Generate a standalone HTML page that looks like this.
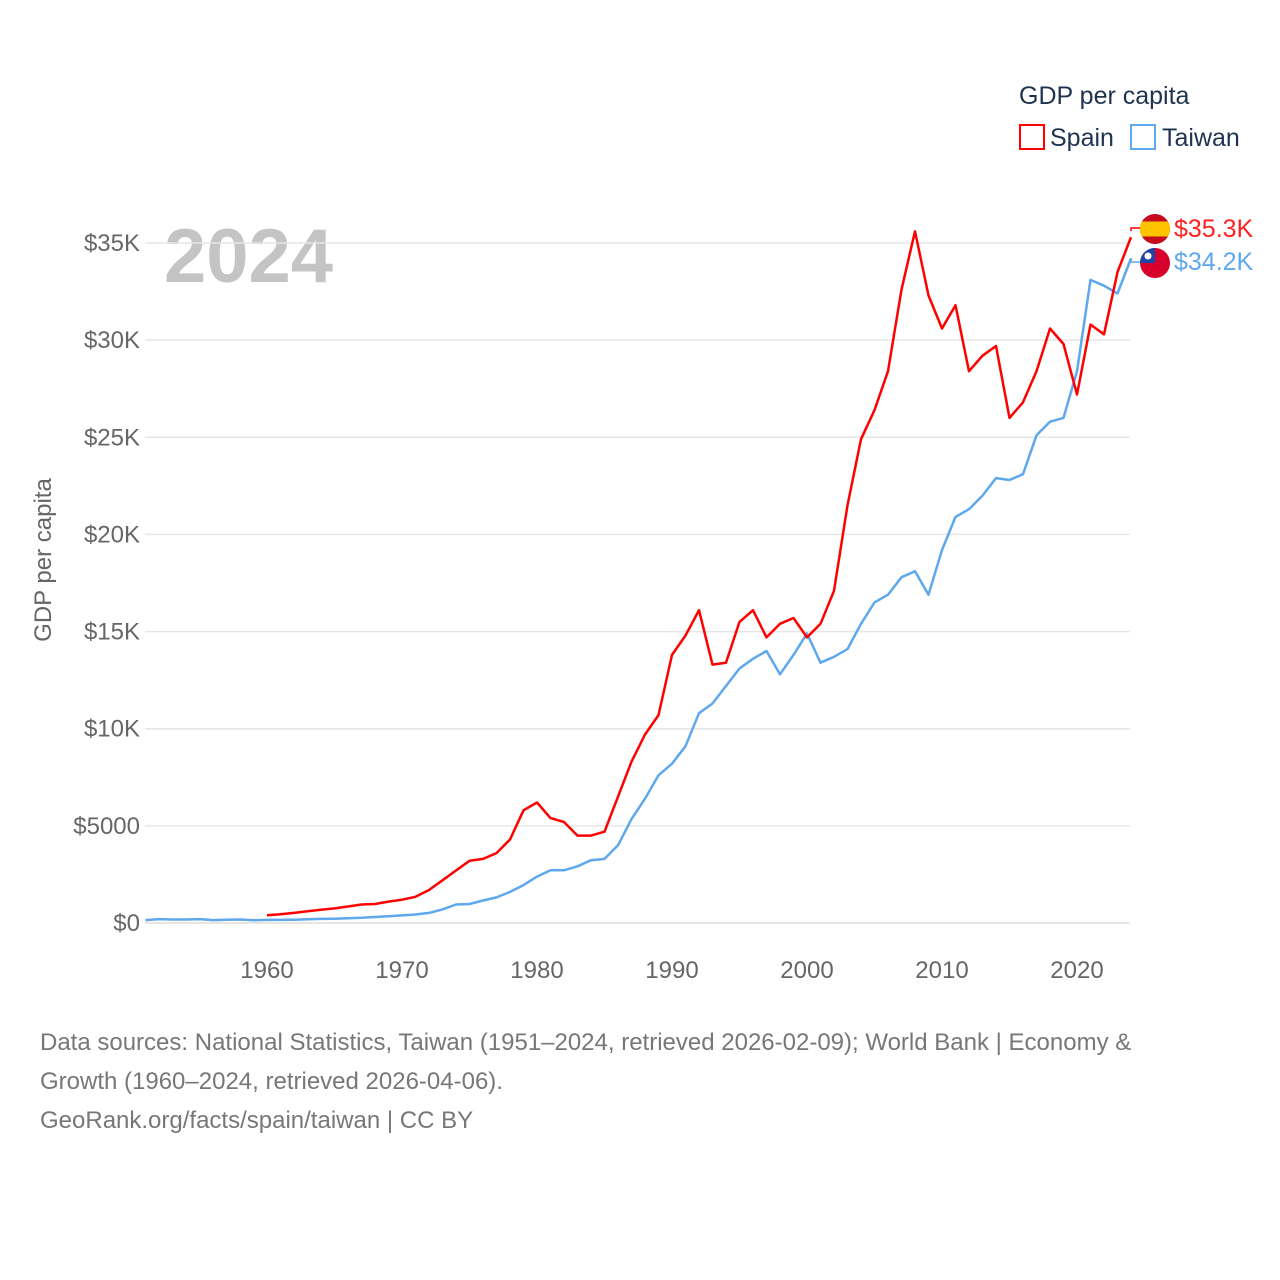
<!DOCTYPE html>
<html><head><meta charset="utf-8">
<style>
body{margin:0;background:#fff;font-family:"Liberation Sans",sans-serif;}
svg text{font-family:"Liberation Sans",sans-serif;}
.foot{position:absolute;left:40px;top:1023px;font-size:24px;line-height:39px;color:#777;width:1170px;}
</style></head>
<body>
<div style="position:relative;width:1280px;height:1280px;overflow:hidden">
<svg id="chart" width="1280" height="1280">
  <text x="1019" y="104" font-size="25" fill="#1f3350">GDP per capita</text>
  <g>
    <rect x="1020" y="125" width="24" height="24" fill="none" stroke="#ff0000" stroke-width="2"/>
    <text x="1050" y="146" font-size="25" fill="#1f3350">Spain</text>
  </g>
  <g>
    <rect x="1131" y="125" width="24" height="24" fill="none" stroke="#5ea8ee" stroke-width="2"/>
    <text x="1162" y="146" font-size="25" fill="#1f3350">Taiwan</text>
  </g>
  <text x="164" y="282" font-size="76" font-weight="bold" fill="#c4c4c4">2024</text>
  <text transform="translate(51,560) rotate(-90)" text-anchor="middle" font-size="24" fill="#666">GDP per capita</text>
  <g id="grid"></g>
  <g id="series"></g>
  <g>
    <path d="M1131 231 L1131 228 L1140 228" fill="none" stroke="#ff0000" stroke-width="1.5"/>
    <clipPath id="c1"><circle cx="1155" cy="229" r="15"/></clipPath>
    <g clip-path="url(#c1)"><rect x="1140" y="214" width="30" height="30" fill="#c60b1e"/><rect x="1140" y="221.5" width="30" height="15" fill="#ffc400"/></g>
    <text x="1174" y="237" font-size="25" fill="#ff2020">$35.3K</text>
  </g>
  <g>
    <path d="M1131 258 L1131 262 L1140 262" fill="none" stroke="#5ea8ee" stroke-width="1.5"/>
    <clipPath id="c2"><circle cx="1155" cy="263" r="15"/></clipPath>
    <g clip-path="url(#c2)"><rect x="1140" y="248" width="30" height="30" fill="#d8002c"/><rect x="1140" y="248" width="15" height="15" fill="#1d44a8"/><circle cx="1148" cy="256" r="3.5" fill="#fff"/></g>
    <text x="1174" y="270" font-size="25" fill="#5ea8ee">$34.2K</text>
  </g>
</svg>
<div class="foot">Data sources: National Statistics, Taiwan (1951–2024, retrieved 2026-02-09); World Bank | Economy &amp; Growth (1960–2024, retrieved 2026-04-06).<br><span>GeoRank.org/facts/spain/taiwan | CC BY</span></div>
</div>
<script>
const yTicks=[0,5000,10000,15000,20000,25000,30000,35000];
const yTickLabels=["$0","$5000","$10K","$15K","$20K","$25K","$30K","$35K"];
const xTicks=[1960,1970,1980,1990,2000,2010,2020];
const spainStart=1960;
const spainValues=[0.4,0.45,0.52,0.6,0.68,0.75,0.85,0.95,0.98,1.1,1.2,1.35,1.7,2.2,2.7,3.2,3.3,3.6,4.3,5.8,6.2,5.4,5.2,4.5,4.5,4.7,6.5,8.3,9.7,10.7,13.8,14.8,16.1,13.3,13.4,15.5,16.1,14.7,15.4,15.7,14.7,15.4,17.1,21.5,24.9,26.4,28.4,32.6,35.6,32.3,30.6,31.8,28.4,29.2,29.7,26.0,26.8,28.4,30.6,29.8,27.2,30.8,30.3,33.5,35.3];
const taiwanStart=1951;
const taiwanValues=[0.15,0.2,0.18,0.18,0.2,0.15,0.17,0.18,0.14,0.16,0.16,0.17,0.19,0.21,0.22,0.24,0.27,0.31,0.35,0.39,0.44,0.52,0.7,0.95,0.98,1.16,1.32,1.6,1.95,2.39,2.72,2.71,2.92,3.23,3.3,4.0,5.35,6.4,7.6,8.2,9.1,10.8,11.3,12.2,13.1,13.6,14.0,12.8,13.8,14.9,13.4,13.7,14.1,15.4,16.5,16.9,17.8,18.1,16.9,19.2,20.9,21.3,22.0,22.9,22.8,23.1,25.1,25.8,26.0,28.4,33.1,32.8,32.4,34.2];
const NS="http://www.w3.org/2000/svg";
const xs=yr=>267+(yr-1960)*13.5;
const ys=v=>923-v*680/35000;
const grid=document.getElementById('grid');
yTicks.forEach((t,i)=>{
  const l=document.createElementNS(NS,'line');
  l.setAttribute('x1',145);l.setAttribute('x2',1130);l.setAttribute('y1',ys(t));l.setAttribute('y2',ys(t));
  l.setAttribute('stroke','#e6e6e6');l.setAttribute('stroke-width',t===0?2:1.5);
  
  
  grid.appendChild(l);
  const tx=document.createElementNS(NS,'text');
  tx.setAttribute('x',140);tx.setAttribute('y',ys(t)+8);tx.setAttribute('text-anchor','end');
  tx.setAttribute('font-size',24);tx.setAttribute('fill','#666');tx.textContent=yTickLabels[i];
  
  
  grid.appendChild(tx);
});
xTicks.forEach(t=>{
  const tx=document.createElementNS(NS,'text');
  tx.setAttribute('x',xs(t));tx.setAttribute('y',978);tx.setAttribute('text-anchor','middle');
  tx.setAttribute('font-size',24);tx.setAttribute('fill','#666');tx.textContent=t;
  
  
  grid.appendChild(tx);
});
const ser=document.getElementById('series');
function line(start,vals,color,name){
  const p=document.createElementNS(NS,'polyline');
  p.setAttribute('points',vals.map((v,i)=>xs(start+i).toFixed(1)+','+ys(v*1000).toFixed(1)).join(' '));
  p.setAttribute('fill','none');p.setAttribute('stroke',color);p.setAttribute('stroke-width',2.5);
  p.setAttribute('stroke-linejoin','round');
  
  
  ser.appendChild(p);
}
line(taiwanStart,taiwanValues,'#5ea8ee','taiwan-line');
line(spainStart,spainValues,'#ff0000','spain-line');
</script>
</body></html>
